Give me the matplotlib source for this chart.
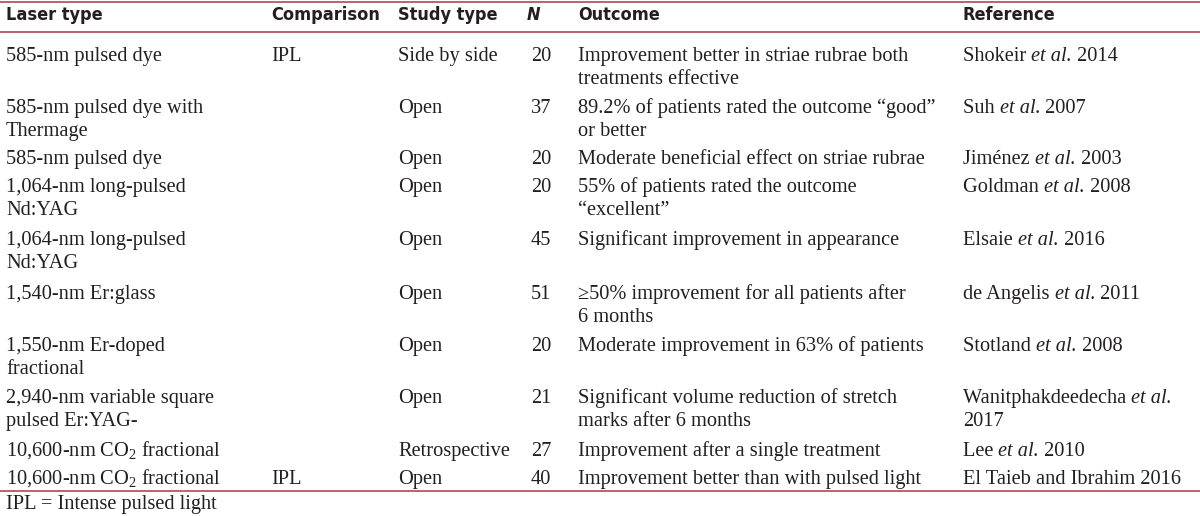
import matplotlib
matplotlib.use("Agg")
import matplotlib.pyplot as plt
from matplotlib import font_manager as fm

# ---- fonts ----
BODY_FONT = "Liberation Serif"
plt.rcParams["mathtext.fontset"] = "custom"
plt.rcParams["mathtext.rm"] = BODY_FONT
plt.rcParams["mathtext.it"] = BODY_FONT + ":italic"

head_bold = None
head_bold_it = None
for f in fm.fontManager.ttflist:
    fn = f.fname.lower()
    if ("narrow" in fn or "condensed" in fn) and ("sans" in fn or "roboto" in fn):
        if "bold" in fn and ("italic" in fn or "oblique" in fn):
            head_bold_it = head_bold_it or f.fname
        elif "bold" in fn:
            head_bold = head_bold or f.fname
if head_bold:
    HEAD = fm.FontProperties(fname=head_bold, size=13)
    HEAD_N = fm.FontProperties(fname=head_bold_it or head_bold, size=13)
else:
    HEAD = fm.FontProperties(family="Liberation Sans", weight="bold", size=12.5)
    HEAD_N = fm.FontProperties(family="Liberation Sans", weight="bold", style="italic", size=12.5)

# ---- data ----
headers = ["Laser type", "Comparison", "Study type", "N", "Outcome", "Reference"]

laser_type = [
    ["585-nm pulsed dye"],
    ["585-nm pulsed dye with", "Thermage"],
    ["585-nm pulsed dye"],
    ["1,064-nm long-pulsed", "Nd:YAG"],
    ["1,064-nm long-pulsed", "Nd:YAG"],
    ["1,540-nm Er:glass"],
    ["1,550-nm Er-doped", "fractional"],
    ["2,940-nm variable square", "pulsed Er:YAG-"],
    ["10,600-nm CO$_2$ fractional"],
    ["10,600-nm CO$_2$ fractional"],
]
comparison = ["IPL", "", "", "", "", "", "", "", "", "IPL"]
study_type = ["Side by side", "Open", "Open", "Open", "Open", "Open", "Open", "Open",
              "Retrospective", "Open"]
n_values = [20, 37, 20, 20, 45, 51, 20, 21, 27, 40]
outcome = [
    ["Improvement better in striae rubrae both", "treatments effective"],
    ["89.2% of patients rated the outcome \u201cgood\u201d", "or better"],
    ["Moderate beneficial effect on striae rubrae"],
    ["55% of patients rated the outcome", "\u201cexcellent\u201d"],
    ["Significant improvement in appearance"],
    ["\u226550% improvement for all patients after", "6 months"],
    ["Moderate improvement in 63% of patients"],
    ["Significant volume reduction of stretch", "marks after 6 months"],
    ["Improvement after a single treatment"],
    ["Improvement better than with pulsed light"],
]
ref_authors = ["Shokeir", "Suh", "Jim\u00e9nez", "Goldman", "Elsaie", "de Angelis",
               "Stotland", "Wanitphakdeedecha", "Lee", "El Taieb and Ibrahim"]
ref_etal = [True, True, True, True, True, True, True, True, True, False]
ref_years = [2014, 2007, 2003, 2008, 2016, 2011, 2008, 2017, 2010, 2016]
ref_year_newline = [False] * 7 + [True] + [False] * 2
footnote = "IPL = Intense pulsed light"

# ---- layout (pixels) ----
W, H = 1200, 516
row_tops = [55, 107, 158, 186, 239, 293, 345, 397, 450, 478]
line_gap = 23
col_x = [6, 271, 398, 551, 578, 963]
n_head_x = 527
head_y = 15
TEXT = "#231f20"
RULE = "#b5575b"
FS = 14.7

fig = plt.figure(figsize=(W / 100, H / 100), dpi=100)
ax = fig.add_axes([0, 0, 1, 1])
ax.set_xlim(0, W)
ax.set_ylim(H, 0)
ax.axis("off")
renderer = fig.canvas.get_renderer()

for y in (1.5, 31.5, 491):
    ax.plot([0, W], [y, y], color=RULE, lw=1.3, solid_capstyle="butt")

for i, h in enumerate(headers):
    if h == "N":
        ax.text(n_head_x, head_y, h, fontproperties=HEAD_N, color=TEXT,
                va="center", ha="left")
    else:
        ax.text(col_x[i], head_y, h, fontproperties=HEAD, color=TEXT,
                va="center", ha="left")

def put(x, y, s, ha="left", style="normal"):
    return ax.text(x, y + 6, s, fontfamily=BODY_FONT, fontsize=FS, color=TEXT,
                   va="baseline", ha=ha, fontstyle=style)

def put_segments(x, y, segs):
    inv = ax.transData.inverted()
    for s, it in segs:
        t = put(x, y, s, style="italic" if it else "normal")
        bb = t.get_window_extent(renderer)
        x = inv.transform((bb.x1, bb.y0))[0]

for r in range(len(n_values)):
    y0 = row_tops[r]
    for k, s in enumerate(laser_type[r]):
        put(col_x[0], y0 + k * line_gap, s)
    if comparison[r]:
        put(col_x[1], y0, comparison[r])
    put(col_x[2], y0, study_type[r])
    put(col_x[3], y0, str(n_values[r]), ha="right")
    for k, s in enumerate(outcome[r]):
        put(col_x[4], y0 + k * line_gap, s)
    if ref_etal[r]:
        segs = [(ref_authors[r] + " ", False), ("et al.", True)]
        if ref_year_newline[r]:
            put_segments(col_x[5], y0, segs)
            put(col_x[5], y0 + line_gap, str(ref_years[r]))
        else:
            put_segments(col_x[5], y0, segs + [(" " + str(ref_years[r]), False)])
    else:
        put(col_x[5], y0, f"{ref_authors[r]} {ref_years[r]}")

put(6, 503, footnote)

fig.savefig("out.png", dpi=100)
